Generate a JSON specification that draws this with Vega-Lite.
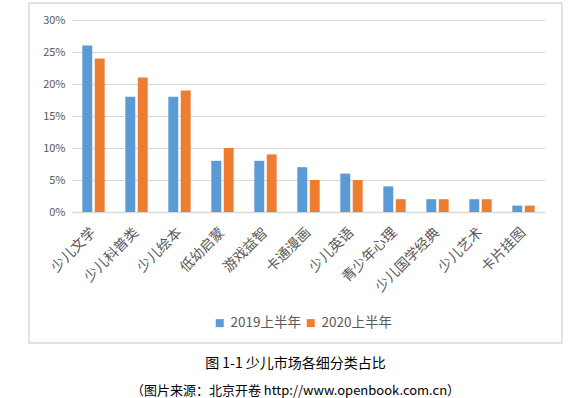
{
  "$schema": "https://vega.github.io/schema/vega-lite/v6.json",
  "autosize": {"type": "none"},
  "width": 533,
  "height": 340,
  "padding": {"left": 29, "top": 3, "right": 24, "bottom": 55},
  "background": "white",
  "config": {
    "view": {"stroke": "#d9d9d9", "strokeWidth": 1.5},
    "font": "Noto Sans CJK SC"
  },
  "title": {
    "text": "图 1-1  少儿市场各细分类占比",
    "subtitle": "（图片来源：北京开卷 http://www.openbook.com.cn）",
    "orient": "bottom",
    "frame": "group",
    "anchor": "middle",
    "offset": 14,
    "fontSize": 14,
    "fontWeight": "normal",
    "color": "#000000",
    "subtitleFontSize": 13,
    "subtitleColor": "#000000",
    "subtitlePadding": 14
  },
  "data": {
    "values": [
      {"category": "少儿文学", "period": "2019上半年", "value": 0.26},
      {"category": "少儿文学", "period": "2020上半年", "value": 0.24},
      {"category": "少儿科普类", "period": "2019上半年", "value": 0.18},
      {"category": "少儿科普类", "period": "2020上半年", "value": 0.21},
      {"category": "少儿绘本", "period": "2019上半年", "value": 0.18},
      {"category": "少儿绘本", "period": "2020上半年", "value": 0.19},
      {"category": "低幼启蒙", "period": "2019上半年", "value": 0.08},
      {"category": "低幼启蒙", "period": "2020上半年", "value": 0.10},
      {"category": "游戏益智", "period": "2019上半年", "value": 0.08},
      {"category": "游戏益智", "period": "2020上半年", "value": 0.09},
      {"category": "卡通漫画", "period": "2019上半年", "value": 0.07},
      {"category": "卡通漫画", "period": "2020上半年", "value": 0.05},
      {"category": "少儿英语", "period": "2019上半年", "value": 0.06},
      {"category": "少儿英语", "period": "2020上半年", "value": 0.05},
      {"category": "青少年心理", "period": "2019上半年", "value": 0.04},
      {"category": "青少年心理", "period": "2020上半年", "value": 0.02},
      {"category": "少儿国学经典", "period": "2019上半年", "value": 0.02},
      {"category": "少儿国学经典", "period": "2020上半年", "value": 0.02},
      {"category": "少儿艺术", "period": "2019上半年", "value": 0.02},
      {"category": "少儿艺术", "period": "2020上半年", "value": 0.02},
      {"category": "卡片挂图", "period": "2019上半年", "value": 0.01},
      {"category": "卡片挂图", "period": "2020上半年", "value": 0.01}
    ]
  },
  "mark": {"type": "bar"},
  "encoding": {
    "x": {
      "field": "category",
      "type": "nominal",
      "sort": null,
      "scale": {"range": [43, 516], "paddingInner": 0.48, "paddingOuter": 0.24},
      "axis": {
        "title": null,
        "offset": -131,
        "labelAngle": -45,
        "labelAlign": "right",
        "labelBaseline": "middle",
        "labelFontSize": 14,
        "labelColor": "#595959",
        "labelPadding": 18,
        "ticks": false,
        "domainColor": "#d9d9d9",
        "domainWidth": 1.5,
        "grid": false
      }
    },
    "xOffset": {
      "field": "period",
      "type": "nominal",
      "scale": {"paddingInner": 0.2}
    },
    "y": {
      "field": "value",
      "type": "quantitative",
      "scale": {"domain": [0, 0.3], "range": [209, 17], "nice": false},
      "axis": {
        "title": null,
        "format": ".0%",
        "values": [0, 0.05, 0.1, 0.15, 0.2, 0.25, 0.3],
        "offset": -43,
        "domain": false,
        "ticks": false,
        "labelPadding": 7,
        "labelFontSize": 11,
        "labelColor": "#595959",
        "gridColor": "#d9d9d9",
        "gridWidth": 1.2
      }
    },
    "color": {
      "field": "period",
      "type": "nominal",
      "scale": {"domain": ["2019上半年", "2020上半年"], "range": ["#5B9BD5", "#ED7D31"]},
      "legend": {
        "title": null,
        "orient": "none",
        "direction": "horizontal",
        "legendX": 184,
        "legendY": 313,
        "symbolType": "square",
        "symbolSize": 64,
        "symbolStrokeWidth": 0,
        "labelFontSize": 13.5,
        "labelColor": "#595959",
        "labelOffset": 4,
        "columnPadding": 3
      }
    }
  }
}
